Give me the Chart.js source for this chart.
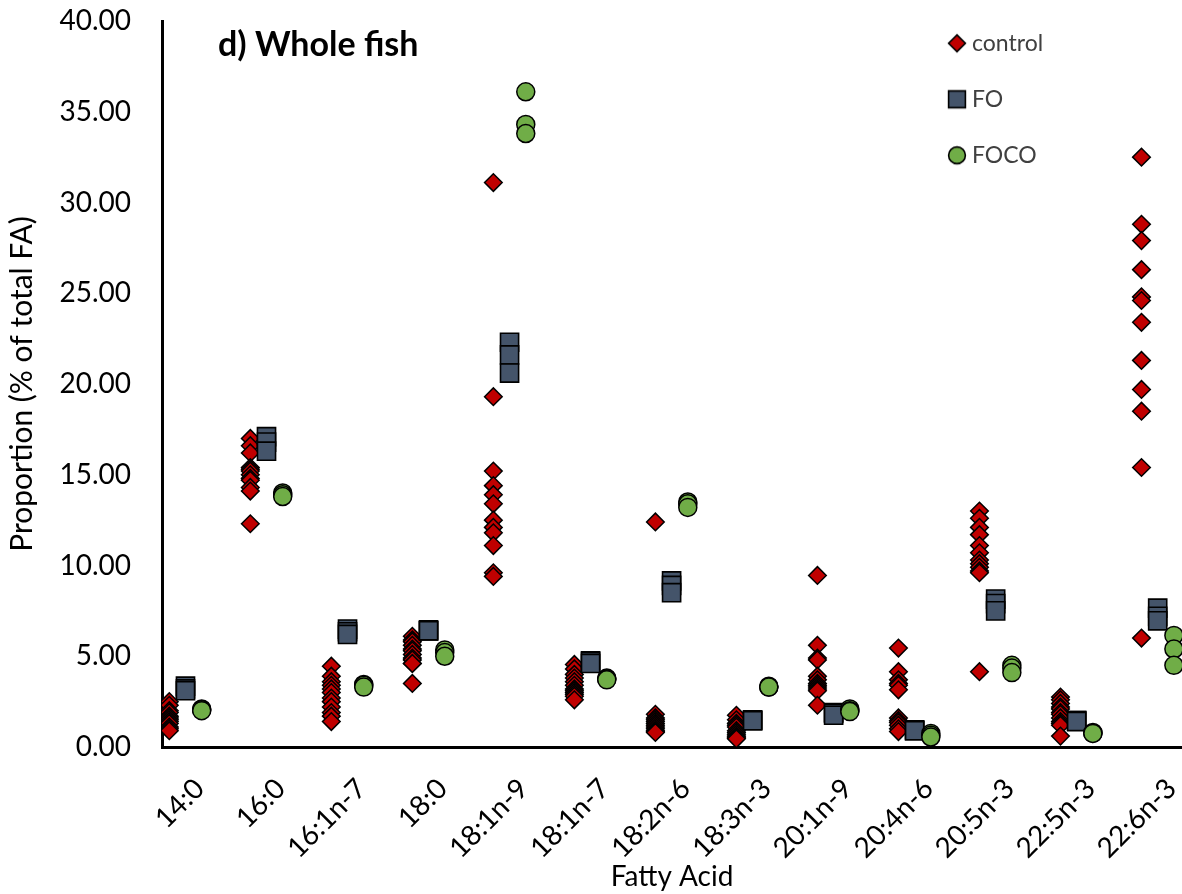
<!DOCTYPE html>
<html>
<head>
<meta charset="utf-8">
<title>Whole fish fatty acids</title>
<script src="https://cdn.jsdelivr.net/npm/chart.js@4.4.1/dist/chart.umd.min.js"></script>
<style>
  html, body { margin: 0; padding: 0; background: #ffffff; }
  #wrap { width: 1182px; height: 894px; position: relative; }
</style>
</head>
<body>
<div id="wrap"><canvas id="chart" width="1182" height="894"></canvas></div>
<script>
// Fatty acids on the x axis
const fattyAcids = ['14:0', '16:0', '16:1n-7', '18:0', '18:1n-9', '18:1n-7', '18:2n-6',
                    '18:3n-3', '20:1n-9', '20:4n-6', '20:5n-3', '22:5n-3', '22:6n-3'];

// Proportion (% of total FA), one list per fatty acid
const controlValues = [
  [2.5, 2.3, 2.0, 1.9, 1.7, 1.6, 1.5, 1.4, 1.3, 1.1, 1.0, 0.9],
  [17.0, 16.6, 16.2, 15.4, 15.3, 15.2, 15.0, 14.8, 14.7, 14.3, 14.1, 12.3],
  [4.45, 3.9, 3.6, 3.4, 3.2, 3.0, 2.7, 2.5, 2.2, 1.9, 1.7, 1.4],
  [6.1, 5.9, 5.8, 5.6, 5.4, 5.3, 5.1, 4.9, 4.8, 4.6, 4.6, 3.5],
  [31.1, 19.3, 15.2, 14.4, 13.9, 13.4, 12.5, 12.1, 11.8, 11.1, 9.6, 9.4],
  [4.55, 4.3, 4.0, 3.8, 3.6, 3.4, 3.2, 3.1, 3.0, 2.9, 2.8, 2.6],
  [12.4, 1.8, 1.6, 1.5, 1.4, 1.3, 1.2, 1.1, 1.0, 0.9, 0.85, 0.8],
  [1.75, 1.5, 1.3, 1.2, 1.1, 0.9, 0.8, 0.7, 0.6, 0.55, 0.5, 0.45],
  [9.45, 5.6, 4.9, 4.8, 3.9, 3.7, 3.5, 3.4, 3.3, 3.2, 3.1, 2.3],
  [5.45, 4.15, 3.7, 3.5, 3.4, 3.15, 1.6, 1.45, 1.35, 1.2, 1.0, 0.85],
  [13.0, 12.6, 12.1, 11.7, 11.1, 10.7, 10.3, 10.1, 9.9, 9.7, 9.6, 4.15],
  [2.75, 2.6, 2.4, 2.2, 2.1, 1.9, 1.8, 1.6, 1.4, 1.3, 1.2, 0.6],
  [32.5, 28.8, 27.9, 26.3, 24.8, 24.6, 23.4, 21.3, 19.7, 18.5, 15.4, 6.0]
];
const foValues = [
  [3.35, 3.2, 3.1],
  [17.1, 16.8, 16.3],
  [6.5, 6.35, 6.2],
  [6.45, 6.4, 6.4],
  [22.3, 21.6, 20.6],
  [4.75, 4.7, 4.6],
  [9.15, 8.9, 8.5],
  [1.5, 1.45, 1.45],
  [1.9, 1.85, 1.75],
  [0.95, 0.9, 0.9],
  [8.15, 7.9, 7.5],
  [1.45, 1.45, 1.4],
  [7.65, 7.2, 6.95]
];
const focoValues = [
  [2.1, 2.05, 2.0],
  [14.0, 13.9, 13.8],
  [3.45, 3.4, 3.3],
  [5.35, 5.2, 5.0],
  [36.1, 34.3, 33.8],
  [3.8, 3.75, 3.7],
  [13.5, 13.4, 13.2],
  [3.35, 3.3, 3.3],
  [2.1, 2.0, 1.95],
  [0.75, 0.65, 0.55],
  [4.5, 4.35, 4.1],
  [0.8, 0.75, 0.75],
  [6.15, 5.4, 4.5]
];

// y axis tick values
const yTickValues = [0, 5, 10, 15, 20, 25, 30, 35, 40];

// Each diet sits slightly apart inside its fatty acid slot
const SHIFT = { control: -0.2, FO: 0, FOCO: 0.2 };
const toPoints = (groups, shift) =>
  groups.flatMap((vals, i) => vals.map(v => ({ x: i + shift, y: v })));

const FONT = 'Lato';
const COLORS = { control: '#C00000', FO: '#44546A', FOCO: '#70AD47' };

// Small marker images for the legend entries
function legendIcon(kind, fill) {
  const size = 22, m = size / 2, h = 8.4;
  const c = document.createElement('canvas');
  c.width = c.height = size;
  const g = c.getContext('2d');
  g.fillStyle = fill;
  g.strokeStyle = '#000';
  g.lineWidth = 1.6;
  g.beginPath();
  if (kind === 'diamond') {
    g.moveTo(m, m - h); g.lineTo(m + h, m); g.lineTo(m, m + h); g.lineTo(m - h, m); g.closePath();
  } else if (kind === 'square') {
    g.rect(m - h, m - h, 2 * h, 2 * h);
  } else {
    g.arc(m, m, h, 0, Math.PI * 2);
  }
  g.fill();
  g.stroke();
  return c;
}
const legendIcons = [
  legendIcon('diamond', COLORS.control),
  legendIcon('square', COLORS.FO),
  legendIcon('circle', COLORS.FOCO)
];

// Panel heading inside the plot
const panelTitle = {
  id: 'panelTitle',
  afterDraw(chart) {
    const ctx = chart.ctx;
    ctx.save();
    ctx.font = 'bold 34px ' + FONT;
    ctx.fillStyle = '#000';
    ctx.textAlign = 'left';
    ctx.textBaseline = 'alphabetic';
    ctx.fillText('d) Whole fish', 218, 56);
    ctx.restore();
  }
};

// Put the legend in the upper right of the plot
const legendPlacement = {
  id: 'legendPlacement',
  afterLayout(chart) {
    const lg = chart.legend;
    if (!lg) return;
    lg.left = 920.5;
    lg.top = -1.2;
    lg.right = lg.left + lg.width;
    lg.bottom = lg.top + lg.height;
  }
};

new Chart(document.getElementById('chart'), {
  type: 'scatter',
  data: {
    datasets: [
      {
        label: 'control',
        data: toPoints(controlValues, SHIFT.control),
        pointStyle: 'rectRot',
        pointRadius: 8.8,
        pointHoverRadius: 8.8,
        backgroundColor: COLORS.control,
        borderColor: '#000',
        borderWidth: 1.5,
        order: 3
      },
      {
        label: 'FO',
        data: toPoints(foValues, SHIFT.FO),
        pointStyle: 'rect',
        pointRadius: 12.8,
        pointHoverRadius: 12.8,
        backgroundColor: COLORS.FO,
        borderColor: '#000',
        borderWidth: 1.6,
        order: 2
      },
      {
        label: 'FOCO',
        data: toPoints(focoValues, SHIFT.FOCO),
        pointStyle: 'circle',
        pointRadius: 9,
        pointHoverRadius: 9,
        backgroundColor: COLORS.FOCO,
        borderColor: '#000',
        borderWidth: 1.5,
        order: 1
      }
    ]
  },
  options: {
    responsive: false,
    animation: false,
    events: [],
    devicePixelRatio: 1,
    layout: { autoPadding: false, padding: { top: 21, right: 0, bottom: 0, left: 0 } },
    scales: {
      x: {
        type: 'linear',
        position: 'bottom',
        min: -0.29,
        max: 12.30,
        grid: { display: false, drawTicks: false },
        border: { display: true, color: '#000', width: 3 },
        afterBuildTicks: (scale) => { scale.ticks = fattyAcids.map((_, i) => ({ value: i })); },
        ticks: {
          autoSkip: false,
          minRotation: 45,
          maxRotation: 45,
          padding: 25,
          labelOffset: 14,
          color: '#000',
          font: { family: FONT, size: 28 },
          callback: (value) => fattyAcids[value]
        },
        title: {
          display: true,
          text: 'Fatty Acid',
          color: '#000',
          font: { family: FONT, size: 28 },
          padding: { top: 0, bottom: 0 }
        },
        afterFit: (scale) => { scale.height = 147; scale.paddingLeft = 0; scale.paddingRight = 0; }
      },
      y: {
        type: 'linear',
        min: 0,
        max: 40,
        grid: { display: false, drawTicks: false },
        border: { display: true, color: '#000', width: 3 },
        afterBuildTicks: (scale) => { scale.ticks = yTickValues.map(v => ({ value: v })); },
        ticks: {
          padding: 31,
          color: '#000',
          font: { family: FONT, size: 28 },
          callback: (value) => Number(value).toFixed(2)
        },
        title: {
          display: true,
          text: 'Proportion (% of total FA)',
          color: '#000',
          font: { family: FONT, size: 30 },
          padding: { top: 4, bottom: 0 }
        },
        afterFit: (scale) => { scale.width = 162; scale.paddingTop = 0; scale.paddingBottom = 0; }
      }
    },
    plugins: {
      tooltip: { enabled: false },
      legend: {
        display: true,
        position: 'chartArea',
        align: 'start',
        labels: {
          usePointStyle: true,
          pointStyleWidth: 7,
          padding: 33,
          color: '#404040',
          font: { family: FONT, size: 23 },
          sort: (a, b) => a.datasetIndex - b.datasetIndex,
          generateLabels: (chart) => {
            const items = Chart.defaults.plugins.legend.labels.generateLabels(chart);
            items.forEach(it => { it.pointStyle = legendIcons[it.datasetIndex]; });
            return items;
          }
        }
      }
    }
  },
  plugins: [panelTitle, legendPlacement]
});
</script>
</body>
</html>
